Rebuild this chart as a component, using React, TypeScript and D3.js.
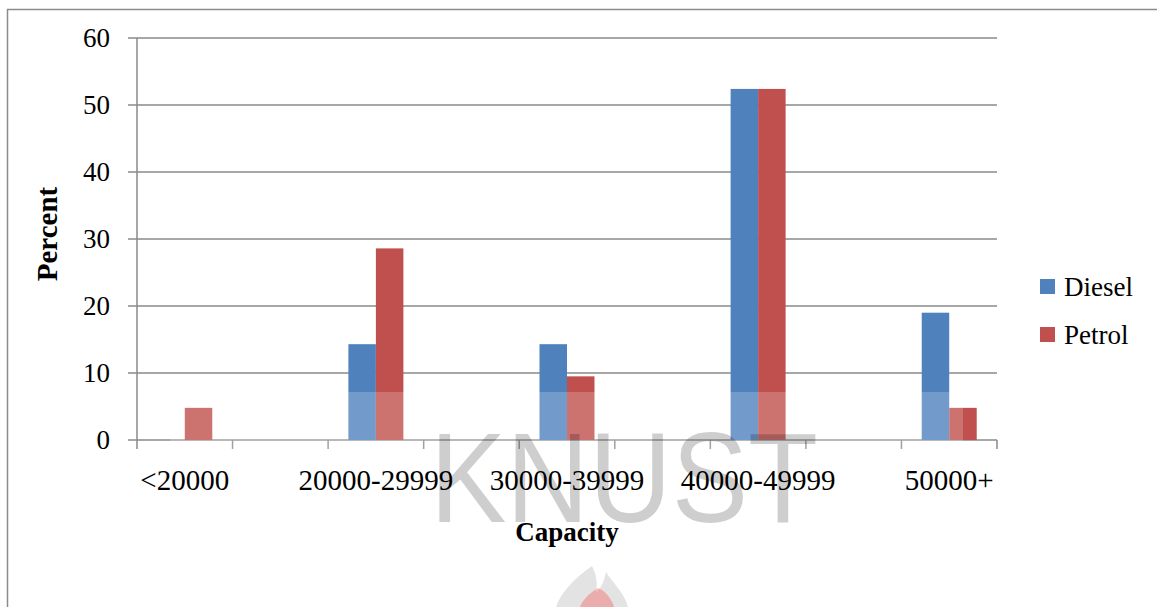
import React from "react";
import * as d3 from "d3";

const categories = ["<20000", "20000-29999", "30000-39999", "40000-49999", "50000+"];
const dieselValues = [0, 14.3, 14.3, 52.4, 19.0];
const petrolValues = [4.8, 28.6, 9.5, 52.4, 4.8];
const seriesNames = ["Diesel", "Petrol"];
const yTickValues = [0, 10, 20, 30, 40, 50, 60];
// the category axis has 9 slots; the labelled categories sit on every other slot
const slotCount = 9;

const W = 1157;
const H = 607;
const colors: Record<string, string> = { Diesel: "#4F81BD", Petrol: "#C0504D" };
const FONT = "'Liberation Serif', 'Times New Roman', serif";

export default function App() {
  const left = 137, right = 997, top = 38, bottom = 440;
  const y = d3.scaleLinear().domain([0, 60]).range([bottom, top]);
  const slot = d3.scaleBand<number>().domain(d3.range(slotCount)).range([left, right]).padding(0);
  const inner = d3.scaleBand<string>().domain(seriesNames).range([0, slot.bandwidth()]).paddingInner(0).paddingOuter(0.7375);
  const slotTicks = d3.range(slotCount + 1).map((i) => left + i * slot.step());

  const data = categories.map((c, i) => ({
    cat: c,
    slotIndex: i * 2,
    values: [
      { s: "Diesel", v: dieselValues[i] },
      { s: "Petrol", v: petrolValues[i] },
    ],
  }));

  const grid = "#8a8a8a";

  return (
    <svg width={W} height={H} style={{ position: "absolute", left: 0, top: 0, display: "block", background: "#fff" }}>
      {/* outer frame */}
      <line x1={7} y1={9.5} x2={W} y2={9.5} stroke="#8c8c8c" strokeWidth={1.5} />
      <line x1={7.5} y1={9} x2={7.5} y2={H} stroke="#8c8c8c" strokeWidth={1.5} />

      {/* gridlines */}
      {yTickValues.map((t) => (
        <line key={t} x1={left - 9} x2={right} y1={y(t)} y2={y(t)} stroke={grid} strokeWidth={1.5} />
      ))}
      {/* y axis */}
      <line x1={left} x2={left} y1={top} y2={bottom} stroke={grid} strokeWidth={1.5} />
      {/* x ticks */}
      {slotTicks.map((x, i) => (
        <line key={i} x1={x} x2={x} y1={bottom} y2={bottom + 9} stroke={grid} strokeWidth={1.5} />
      ))}

      {/* bars */}
      {data.map((d) => (
        <g key={d.cat} transform={`translate(${slot(d.slotIndex)},0)`}>
          {d.values.map((b) => (
            <rect
              key={b.s}
              x={inner(b.s)}
              y={y(b.v)}
              width={inner.bandwidth()}
              height={bottom - y(b.v)}
              fill={colors[b.s]}
            />
          ))}
        </g>
      ))}

      {/* watermark */}
      <rect x={170} y={392} width={793} height={H - 392} fill="#fff" opacity={0.2} />
      <text
        x={430}
        y={522}
        fontFamily="'Liberation Sans', Arial, sans-serif"
        fontSize={128}
        textLength={388}
        lengthAdjust="spacingAndGlyphs"
        fill="#000"
        opacity={0.19}
      >
        KNUST
      </text>
      <path
        d="M592,566 C574,578 560,594 556,607 L628,607 C624,592 612,582 606,572 C603,586 599,590 596,592 C598,582 596,574 592,566 Z"
        fill="#666"
        opacity={0.18}
      />
      <path
        d="M598,588 C588,594 582,601 580,607 L614,607 C612,599 606,593 602,590 Z"
        fill="#ff3030"
        opacity={0.3}
      />

      {/* y labels */}
      {yTickValues.map((t) => (
        <text key={t} x={110} y={y(t)} dy="0.35em" textAnchor="end" fontFamily={FONT} fontSize={27} fill="#000">
          {t}
        </text>
      ))}

      {/* x labels */}
      {data.map((d) => (
        <text
          key={d.cat}
          x={(slot(d.slotIndex) as number) + slot.bandwidth() / 2}
          y={490}
          textAnchor="middle"
          fontFamily={FONT}
          fontSize={29}
          fill="#000"
        >
          {d.cat}
        </text>
      ))}

      {/* axis titles */}
      <text x={(left + right) / 2} y={541} textAnchor="middle" fontFamily={FONT} fontSize={27} fontWeight="bold" fill="#000">
        Capacity
      </text>
      <text
        transform={`translate(57,234) rotate(-90)`}
        textAnchor="middle"
        fontFamily={FONT}
        fontSize={29}
        fontWeight="bold"
        fill="#000"
      >
        Percent
      </text>

      {/* legend */}
      {seriesNames.map((s, i) => (
        <g key={s} transform={`translate(1040,${279 + i * 48})`}>
          <rect x={0} y={0} width={15} height={15} fill={colors[s]} />
          <text x={24} y={17} fontFamily={FONT} fontSize={27} fill="#000">
            {s}
          </text>
        </g>
      ))}
    </svg>
  );
}
